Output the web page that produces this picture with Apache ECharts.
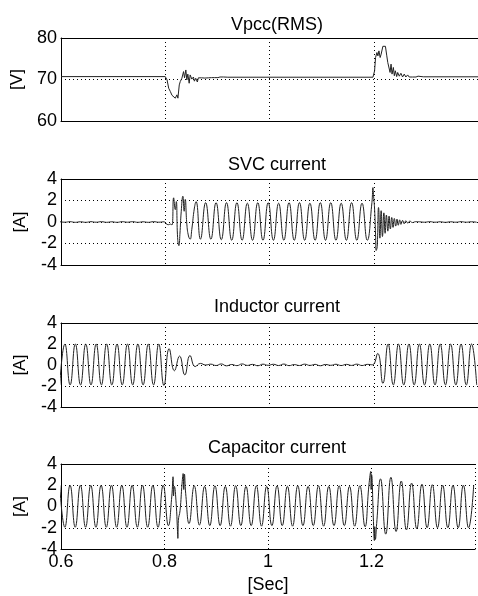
<!DOCTYPE html>
<html>
<head>
<meta charset="utf-8">
<script src="https://cdn.jsdelivr.net/npm/echarts@6/dist/echarts.min.js"></script>
<style>
  html, body { margin: 0; padding: 0; background: #fff; }
  #chart { width: 478px; height: 596px; }
</style>
</head>
<body>
<div id="chart"></div>
<script>
// ---------------- DATA ----------------
const panelTitles = ['Vpcc(RMS)', 'SVC current', 'Inductor current', 'Capacitor current'];
const yUnits = ['[V]', '[A]', '[A]', '[A]'];
const xTickLabels = ['0.6', '0.8', '1', '1.2'];

// Vpcc RMS [V]: time / value samples
const vpccT = [0.6, 0.8, 0.8035, 0.8066, 0.8098, 0.8129, 0.8161, 0.8193, 0.8224, 0.8243, 0.8269, 0.8288, 0.8319,
  0.8351, 0.8370, 0.8395, 0.8414, 0.8433, 0.8459, 0.8478, 0.8509, 0.8541, 0.8559, 0.8585, 0.8616, 0.8635, 0.8667,
  0.8698, 0.8730, 0.8760, 0.8793, 0.8825, 0.8856, 0.8888, 0.8920, 0.8950, 0.8980, 0.9010, 0.9050, 0.9080, 0.9120,
  0.9150, 0.9200, 0.9300, 1.1985, 1.1997, 1.2016, 1.2035, 1.2061, 1.2080, 1.2099, 1.2123, 1.2142, 1.2175, 1.2205,
  1.2224, 1.2250, 1.2269, 1.2288, 1.2313, 1.2332, 1.2351, 1.2376, 1.2395, 1.2414, 1.2440, 1.2459, 1.2490, 1.2521,
  1.2553, 1.2585, 1.2616, 1.2650, 1.2680, 1.2715, 1.2745, 1.2780, 1.2810, 1.2850, 1.2880, 1.2950, 1.4];
const vpccV = [70.7, 70.7, 69.9, 67.9, 67.1, 66.2, 65.9, 65.5, 66.3, 65.5, 68.7, 69.5, 70.3,
  71.9, 70.4, 72.3, 69.9, 71.3, 69.1, 71.1, 70.1, 70.6, 69.6, 70.3, 69.4, 70.4, 70.7,
  70.4, 70.7, 70.35, 70.7, 70.4, 70.65, 70.45, 70.65, 70.45, 70.6, 70.45, 70.6, 70.5, 70.6,
  70.5, 70.55, 70.55, 70.55, 70.2, 72.1, 75.3, 76.5, 75.7, 76.9, 75.3, 76.1, 78.0, 78.3,
  78.0, 75.7, 74.1, 74.5, 71.7, 73.7, 71.3, 72.9, 70.9, 72.1, 70.7, 71.7, 70.8, 71.5,
  70.6, 71.3, 70.6, 71.1, 70.6, 71.0, 70.6, 70.9, 70.6, 70.8, 70.6, 70.65, 70.65];

// Half-cycle extrema (50 Hz): sample k sits at cycleStart + k * halfCycle
const cycleStart = 0.5975;
const halfCycle = 0.01;

// SVC current [A]
const svcPeaks = [0.03, -0.02, 0.03, -0.03, 0.02, -0.03, 0.03, -0.02, 0.03, -0.03, 0.02, -0.03, 0.03, -0.02,
  0.03, -0.03, 0.02, -0.03, 0.03, -0.02, 0.02,
  null, null, null, null, null, null,
  -1.6, 1.8, -1.6, 1.8, -1.65, 1.8, -1.7, 1.8, -1.7, 1.75, -1.7, 1.8, -1.7, 1.8, -1.7, 1.75, -1.7, 1.8, -1.7,
  1.8, -1.7, 1.75, -1.7, 1.8, -1.7, 1.8, -1.7, 1.75, -1.7, 1.8, -1.7, 1.75, -1.7,
  null, null, null, null, null, null, null, null, null,
  0.02, -0.02, 0.03, -0.02, 0.02, -0.03, 0.02, -0.02, 0.03, -0.02, 0.02, -0.02];
const svcBurstT = [0.7991, 0.8016, 0.8060, 0.8100, 0.8129, 0.8161, 0.8193, 0.8212, 0.8237, 0.8262, 0.8281, 0.8307,
  0.8338, 0.8363, 0.8383, 0.8414, 0.8446, 0.8477, 0.8509, 0.8559, 0.8591,
  1.1965, 1.1984, 1.1997, 1.2016, 1.2035, 1.2047, 1.2066, 1.2092, 1.2118, 1.2142, 1.2167, 1.2194, 1.2218, 1.2243,
  1.2270, 1.2294, 1.2319, 1.2345, 1.2370, 1.2395, 1.2421, 1.2446, 1.2470, 1.2497, 1.2521, 1.2553, 1.2584, 1.2616,
  1.2654, 1.2692, 1.2743, 1.2806];
const svcBurstV = [0.0, -0.15, -0.25, -0.2, -0.28, 2.25, 1.15, 1.9, -1.45, -2.2, -1.15, 1.0,
  2.4, 1.0, 2.1, -0.2, -1.3, -1.6, -0.7, 1.3, 1.9,
  1.8, 3.2, 2.4, 1.2, -1.2, -2.65, -2.3, 1.35, -1.5, 1.05, -1.35, 0.85, -1.05, 0.65,
  -0.85, 0.55, -0.65, 0.42, -0.5, 0.33, -0.38, 0.27, -0.3, 0.2, -0.22, 0.15, -0.17, 0.12,
  -0.1, 0.08, -0.05, 0.03];

// Inductor current [A]
const indPeaks = [-1.9, 2, -1.9, 2, -1.9, 2, -1.9, 2, -1.9, 2, -1.9, 2, -1.9, 2, -1.9, 2, -1.9, 2, -1.9, 2, -1.95,
  1.55, -0.55, 0.85, -0.95, 0.9, -0.15, 0.15,
  0.0, 0.08, -0.05, 0.1, -0.08, 0.05, -0.06, 0.1, -0.04, 0.06, -0.07, 0.08, -0.03, 0.07, -0.05, 0.09, -0.06,
  0.04, -0.05, 0.08, -0.04, 0.06, -0.07, 0.05, -0.03, 0.07, -0.05, 0.06, -0.04, 0.08, -0.05, 0.06, 0.02,
  1.1, -1.75, 2, -1.9, 2, -1.9, 2, -1.9, 2, -1.9, 2, -1.9, 2, -1.9, 2, -1.9, 2, -1.9, 2, -1.9];
const indBurstT = [];
const indBurstV = [];

// Capacitor current [A]
const capPeaks = [2, -1.95, 2, -1.95, 2, -1.95, 2, -1.95, 2, -1.95, 2, -1.95, 2, -1.95, 2, -1.95, 2, -1.95, 2, -1.95, 2,
  -1.8, null, null, null, -1.6,
  1.95, -1.75, 1.9, -1.8, 1.95, -1.8, 1.9, -1.85, 1.95, -1.8, 1.9, -1.8, 1.95, -1.85, 1.9, -1.8, 1.95,
  -1.8, 1.9, -1.85, 1.95, -1.8, 1.9, -1.8, 1.95, -1.85, 1.9, -1.8, 1.95, -1.8, 1.9, -1.85, 1.95, -1.9,
  null, null,
  2.6, -2.6, 2.75, -2.35, 2.4, -2.2, 2.2, -2.1, 2.1, -2.0, 2.05, -2, 2, -2, 2, -2, 2, -2, 2];
const capBurstT = [0.8140, 0.8165, 0.8175, 0.8190, 0.8225, 0.8250, 0.8258, 0.8268, 0.8300, 0.8340, 0.8360, 0.8372,
  0.8385, 0.8410, 1.1950, 1.1985, 1.1993, 1.2002, 1.2035, 1.2055, 1.2063, 1.2075, 1.2100];
const capBurstV = [0.9, 2.8, 1.0, 1.9, 0.3, -2.2, -3.0, -1.3, -0.4, 2.2, 3.1, 1.6,
  3.05, 1.2, 2.0, 3.3, 1.6, 3.0, -1.0, -3.2, -1.9, -3.1, -1.6];

// ---------------- BUILD ----------------
function waveform(peaks, bt, bv) {
  const pts = [];
  peaks.forEach((v, i) => { if (v !== null) pts.push([+(cycleStart + i * halfCycle).toFixed(4), v]); });
  bt.forEach((t, i) => pts.push([t, bv[i]]));
  pts.sort((a, b) => a[0] - b[0]);
  return pts;
}
const vpccData = vpccT.map((t, i) => [t, vpccV[i]]);
const svcData = waveform(svcPeaks, svcBurstT, svcBurstV);
const indData = waveform(indPeaks, indBurstT, indBurstV);
const capData = waveform(capPeaks, capBurstT, capBurstV);

const FONT = 'Liberation Sans, Arial, Helvetica, sans-serif';
const grids = [
  { left: 61, top: 38, width: 422, height: 83 },
  { left: 61, top: 179, width: 422, height: 86 },
  { left: 61, top: 323, width: 422, height: 84 },
  { left: 61, top: 464, width: 422, height: 85 }
];
const titleTops = [11, 151, 293, 434];
const yRanges = [[60, 80, 10], [-4, 4, 2], [-4, 4, 2], [-4, 4, 2]];
const dotted = { show: true, lineStyle: { color: '#000', width: 1, type: [1, 3] } };
const solid = { show: true, onZero: false, lineStyle: { color: '#000', width: 1 } };

const bottomAxes = grids.map((g, i) => ({
  type: 'value', gridIndex: i, position: 'bottom', min: 0.6, max: 1.4, interval: 0.2,
  axisLine: solid, axisTick: { show: false },
  splitLine: dotted,
  axisLabel: {
    show: i === 3, fontFamily: FONT, fontSize: 18, color: '#000', margin: 4,
    formatter: v => { const s = xTickLabels.find(l => Math.abs(parseFloat(l) - v) < 1e-6); return s || ''; }
  },
  name: i === 3 ? '[Sec]' : '', nameLocation: 'middle', nameGap: 27,
  nameTextStyle: { fontFamily: FONT, fontSize: 18, color: '#000' }
}));
const topAxes = grids.map((g, i) => ({
  type: 'value', gridIndex: i, position: 'top', min: 0.6, max: 1.4, interval: 0.2,
  axisLine: solid, axisTick: { show: false }, splitLine: { show: false }, axisLabel: { show: false }
}));

const option = {
  animation: false,
  backgroundColor: '#fff',
  title: panelTitles.map((t, i) => ({
    text: t, left: 272, top: titleTops[i], textAlign: 'center',
    textStyle: { fontFamily: FONT, fontSize: 18, fontWeight: 'normal', color: '#000' }
  })),
  grid: grids,
  xAxis: bottomAxes.concat(topAxes),
  yAxis: grids.map((g, i) => ({
    type: 'value', gridIndex: i, min: yRanges[i][0], max: yRanges[i][1], interval: yRanges[i][2],
    axisLine: solid, axisTick: { show: false },
    splitLine: dotted,
    axisLabel: { fontFamily: FONT, fontSize: 18, color: '#000', margin: 4 },
    name: yUnits[i], nameLocation: 'middle', nameGap: 32,
    nameTextStyle: { fontFamily: FONT, fontSize: 17, color: '#000' }
  })),
  series: [vpccData, svcData, indData, capData].map((d, i) => ({
    type: 'line', xAxisIndex: i, yAxisIndex: i, data: d,
    smooth: i === 0 ? false : 0.5, showSymbol: false, clip: true,
    lineStyle: { color: '#222', width: 1 }
  }))
};
echarts.init(document.getElementById('chart'), null, { renderer: 'canvas' }).setOption(option);
</script>
</body>
</html>
